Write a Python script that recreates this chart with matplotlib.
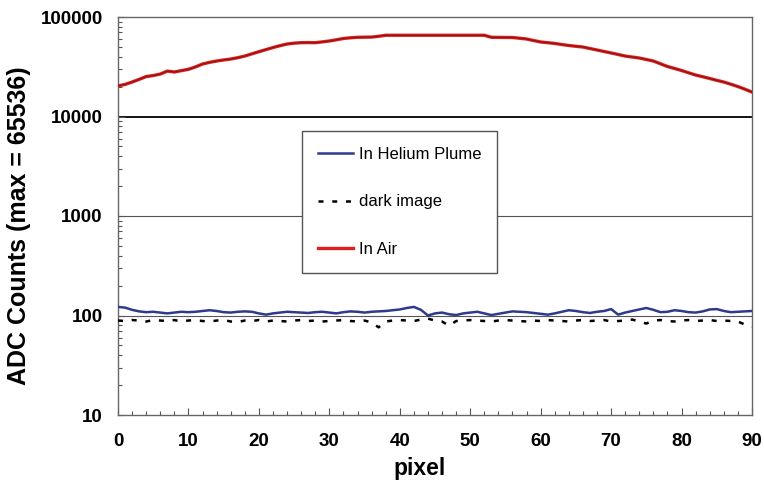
import numpy as np
import matplotlib.pyplot as plt
from matplotlib.ticker import FixedLocator, MultipleLocator, LogLocator, NullFormatter

# detector pixel index
pixel = np.arange(0, 91)

# signal with no helium in the path
in_air = [20300, 21000, 22200, 23600, 25200, 25800, 26700, 28600, 28000, 28900,
          29800, 31500, 33700, 35000, 36100, 37000, 37800, 39000, 40500, 42600,
          44800, 47000, 49300, 51500, 53500, 54600, 55200, 55300, 55200, 56200,
          57400, 59000, 60800, 61800, 62500, 62700, 62800, 64000, 65535, 65535,
          65535, 65535, 65535, 65535, 65535, 65535, 65535, 65535, 65535, 65535,
          65535, 65535, 65535, 62500, 62400, 62300, 62200, 61200, 60100, 58000,
          56100, 55200, 54200, 52900, 51700, 50800, 49900, 48200, 46600, 45000,
          43500, 42000, 40500, 39600, 38700, 37400, 36100, 33900, 31800, 30400,
          29000, 27500, 26100, 25100, 24100, 23100, 22200, 21100, 20000, 18800,
          17600]

# signal looking through the helium plume
in_helium = [122, 120, 114, 110, 108, 109, 107, 105, 107, 109,
             108, 109, 111, 113, 111, 108, 107, 109, 110, 109,
             105, 102, 105, 107, 109, 108, 107, 106, 108, 109,
             107, 105, 108, 110, 109, 107, 109, 110, 111, 113,
             115, 119, 122, 114, 100, 105, 107, 103, 101, 105,
             107, 109, 105, 101, 104, 107, 110, 109, 108, 106,
             104, 102, 105, 109, 113, 111, 108, 106, 109, 111,
             116, 102, 107, 111, 115, 119, 114, 108, 109, 113,
             111, 108, 107, 110, 115, 116, 111, 108, 109, 110,
             111]

# dark frame
dark = [89, 88, 90, 89, 87, 90, 89, 88, 90, 87,
        89, 90, 88, 87, 89, 90, 87, 86, 89, 88,
        90, 87, 89, 88, 87, 89, 90, 88, 89, 87,
        88, 89, 90, 88, 87, 89, 85, 76, 87, 89,
        90, 89, 88, 91, 93, 89, 87, 79, 88, 89,
        90, 89, 88, 87, 89, 90, 89, 88, 87, 89,
        88, 90, 89, 88, 87, 89, 90, 88, 89, 90,
        87, 88, 89, 91, 87, 83, 89, 90, 88, 87,
        89, 90, 88, 89, 90, 88, 89, 88, 87, 81,
        77]

plt.rcParams['font.family'] = ['Liberation Sans', 'DejaVu Sans']

fig = plt.figure(figsize=(7.64, 4.87), dpi=100)
ax = fig.add_axes([118 / 764, 1 - 415 / 487, 634 / 764, 398 / 487])

ax.set_yscale('log')
ax.set_ylim(10, 100000)
ax.set_xlim(0, 90)

# decade grid lines
for v in [100, 1000]:
    ax.axhline(v, color='#555555', lw=0.8, zorder=1)
ax.axhline(10000, color='black', lw=1.3, zorder=1)

ax.plot(pixel, in_helium, color='#2e3a8c', lw=1.8, label='In Helium Plume', zorder=3)
ax.plot(pixel, dark, color='black', lw=1.8, ls=(0, (2, 3.5)), label='dark image', zorder=3)
ax.plot(pixel, in_air, color='#e02020', lw=2.4, label='In Air', zorder=4)
ax.plot(pixel, in_air, color='#5a0a0a', lw=0.9, alpha=0.6, zorder=4)

ax.xaxis.set_major_locator(MultipleLocator(10))
ax.xaxis.set_minor_locator(MultipleLocator(2))
ax.yaxis.set_major_locator(FixedLocator([10, 100, 1000, 10000, 100000]))
ax.yaxis.set_minor_locator(LogLocator(base=10, subs=np.arange(2, 10)))
ax.yaxis.set_minor_formatter(NullFormatter())
ax.set_yticklabels(['10', '100', '1000', '10000', '100000'])

ax.tick_params(axis='both', which='both', direction='in', top=False, right=False,
               colors='#555555', labelcolor='black')
ax.tick_params(axis='both', which='major', length=5, width=0.8)
ax.tick_params(axis='both', which='minor', length=3, width=0.8)
ax.tick_params(axis='x', which='major', pad=13)
ax.tick_params(axis='y', which='major', pad=11)
for lab in ax.get_xticklabels() + ax.get_yticklabels():
    lab.set_fontweight('bold')
    lab.set_fontsize(13.5)

for s in ax.spines.values():
    s.set_color('#666666')
    s.set_linewidth(1.0)

ax.set_xlabel('pixel', fontsize=16.5, fontweight='bold', va='top')
ax.xaxis.set_label_coords(0.476, -0.105)
ax.set_ylabel('ADC Counts (max = 65536)', fontsize=18, fontweight='bold')
ax.yaxis.set_label_coords(-0.137, 0.475)

leg = ax.legend(loc='upper left', bbox_to_anchor=(0.29, 0.714), fontsize=12,
                frameon=True, fancybox=False, edgecolor='#555555', framealpha=1,
                handlelength=2.1, handletextpad=0.35, labelspacing=1.97,
                borderpad=0.95, borderaxespad=0)
leg.get_frame().set_linewidth(1.0)
leg.set_zorder(5)

fig.savefig('out.png', dpi=100)
